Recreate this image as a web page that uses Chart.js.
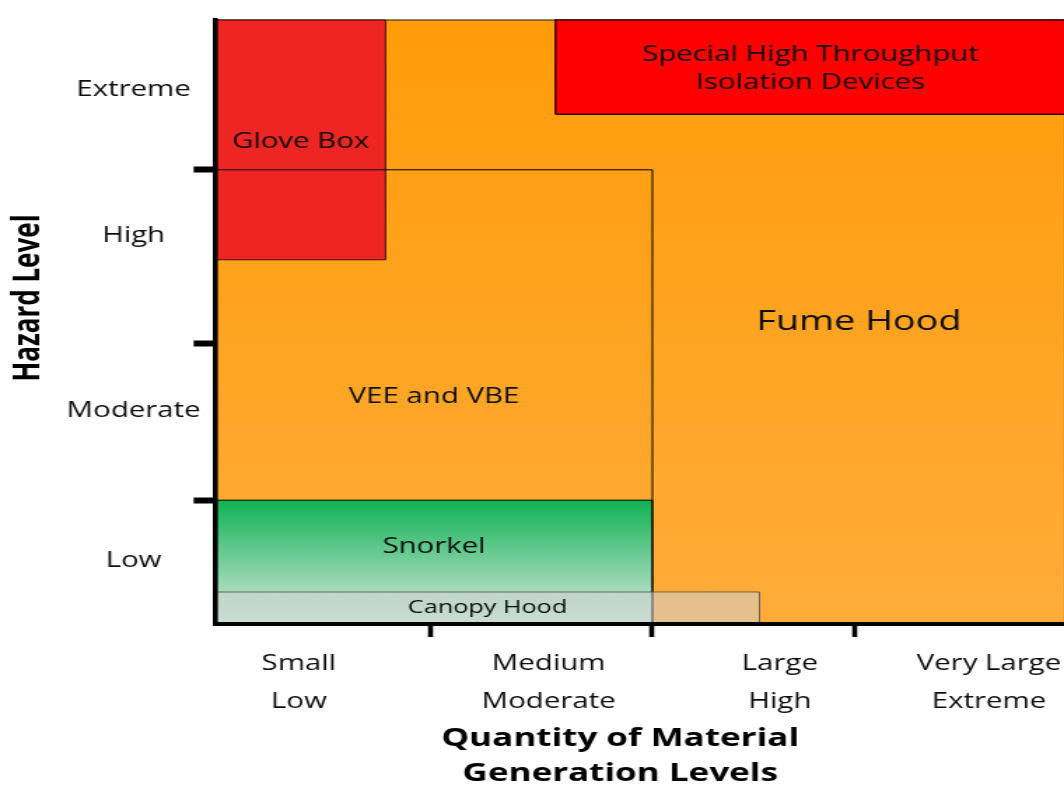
<!DOCTYPE html>
<html>
<head>
<meta charset="utf-8">
<script src="https://cdn.jsdelivr.net/npm/chart.js@4.4.1/dist/chart.umd.min.js"></script>
<style>
  html, body { margin: 0; padding: 0; background: #fff; overflow: hidden; width: 1064px; height: 785px; }
  /* the chart is laid out narrow and widened 1.4x horizontally */
  #wrap { position: relative; width: 772px; height: 785px; transform: scaleX(1.4); transform-origin: 0 0; }
  canvas { display: block; }
</style>
</head>
<body>
<div id="wrap"><canvas id="chart" width="772" height="785"></canvas></div>
<script>
// Hazard level bands (y axis, 0-100)
const hazardLevels = ['Low', 'Moderate', 'High', 'Extreme'];
const hazardLabelAt = [10.5, 35.3, 64.2, 88.4];
const hazardBounds = [20.5, 46.5, 75.2];

// Quantity of material / generation level bands (x axis, 0-100)
const quantityLevels = [['Small', 'Low'], ['Medium', 'Moderate'], ['Large', 'High'], ['Very Large', 'Extreme']];
const quantityLabelAt = [9.8, 39.2, 66.4, 91];
const quantityBounds = [25.3, 51.4, 75.2];

// Control device zones, listed from back to front
const zoneLabels = [['Fume Hood'], ['Snorkel'], ['Glove Box'], ['VEE and VBE'], ['Special High Throughput', 'Isolation Devices'], ['Canopy Hood']];
const zoneQuantityFrom = [0, 0, 0, 0, 40, 0];
const zoneQuantityTo = [100, 51.4, 20, 51.4, 100, 64];
const zoneHazardFrom = [0, 0, 60.3, 0, 84.4, 0];
const zoneHazardTo = [100, 20.5, 100, 75.2, 100, 5.3];
const zoneLabelQuantity = [75.7, 25.7, 10, 25.7, 70, 32];
const zoneLabelHazard = [50.0, 12.8, 79.8, 37.5, 91.9, 2.7];

// ---- styling ----
const FONT = '"Open Sans", "DejaVu Sans", sans-serif';

function yGradient(chart, stops, fallback) {
  const y = chart.scales.y;
  if (!chart.chartArea || !y) return fallback;
  const p0 = y.getPixelForValue(stops[0][0]);
  const p1 = y.getPixelForValue(stops[stops.length - 1][0]);
  const g = chart.ctx.createLinearGradient(0, p0, 0, p1);
  stops.forEach(([v, c]) => g.addColorStop((y.getPixelForValue(v) - p0) / (p1 - p0), c));
  return g;
}

const zoneFill = [
  c => yGradient(c.chart, [[0, '#FFAC3A'], [100, '#FF9C08']], '#FFA520'),
  c => yGradient(c.chart, [[0, '#C6E9D4'], [5.3, '#A9DCBE'], [20.5, '#10B255']], '#4CC07C'),
  '#EE2523',
  'rgba(0,0,0,0)',
  '#FF0000',
  'rgba(205,210,210,0.55)'
];
const zoneBorder = ['#2a1a00', '#000000', '#3b1208', '#000000', '#330000', 'rgba(80,80,80,0.85)'];
const zoneBorderWidth = [1.2, 1, 1, 1, 1.4, 1];
const zoneLabelSize = [27, 21, 21, 21, 21, 18];

const datasets = zoneLabels.map((lines, i) => {
  const x0 = zoneQuantityFrom[i], x1 = zoneQuantityTo[i];
  const y0 = zoneHazardFrom[i], y1 = zoneHazardTo[i];
  return {
    label: lines.join(' '),
    data: [{x: x0, y: y0}, {x: x1, y: y0}, {x: x1, y: y1}, {x: x0, y: y1}, {x: x0, y: y0}],
    fill: 'shape',
    backgroundColor: zoneFill[i],
    borderColor: zoneBorder[i],
    borderWidth: zoneBorderWidth[i],
    borderJoinStyle: 'miter',
    pointRadius: 0,
    tension: 0,
    clip: false,
    order: zoneLabels.length - i
  };
});

// zone names inside each region
const zoneLabelPlugin = {
  id: 'zoneLabels',
  afterDatasetsDraw(chart) {
    const {ctx, scales: {x, y}} = chart;
    ctx.save();
    ctx.fillStyle = '#0d0d0d';
    ctx.textAlign = 'center';
    ctx.textBaseline = 'middle';
    zoneLabels.forEach((lines, i) => {
      const size = zoneLabelSize[i];
      ctx.font = `${size}px ${FONT}`;
      const cx = x.getPixelForValue(zoneLabelQuantity[i]);
      const cy = y.getPixelForValue(zoneLabelHazard[i]);
      const lh = size * 1.33;
      lines.forEach((t, k) => ctx.fillText(t, cx, cy + (k - (lines.length - 1) / 2) * lh));
    });
    ctx.restore();
  }
};

// axis titles
const axisTitlePlugin = {
  id: 'axisTitles',
  afterDraw(chart) {
    const {ctx, chartArea} = chart;
    ctx.save();
    ctx.fillStyle = '#000';
    ctx.textAlign = 'center';
    ctx.textBaseline = 'middle';
    ctx.font = `bold 25px ${FONT}`;
    const cx = chartArea.left + 289;
    ctx.fillText('Quantity of Material', cx, chartArea.bottom + 115);
    ctx.fillText('Generation Levels', cx, chartArea.bottom + 150);
    ctx.translate(chartArea.left - 133.5, chartArea.top + 278);
    ctx.rotate(-Math.PI / 2);
    ctx.font = `bold 26px ${FONT}`;
    ctx.fillText('Hazard Level', 0, 0);
    ctx.restore();
  }
};

const isIn = (arr, v) => arr.indexOf(v) !== -1;

new Chart(document.getElementById('chart'), {
  type: 'line',
  data: { datasets },
  options: {
    responsive: false,
    animation: false,
    events: [],
    devicePixelRatio: 1,
    layout: { padding: { top: 20, right: 11, left: 0, bottom: 0 } },
    plugins: { legend: { display: false }, tooltip: { enabled: false } },
    scales: {
      x: {
        type: 'linear',
        position: 'bottom',
        min: 0,
        max: 100,
        afterBuildTicks: s => { s.ticks = quantityLabelAt.concat(quantityBounds).sort((a, b) => a - b).map(v => ({value: v})); },
        afterFit: s => { s.height = 161; },
        grid: {
          drawOnChartArea: false,
          tickLength: 13,
          tickWidth: 3.6,
          tickColor: c => (c.tick && isIn(quantityBounds, c.tick.value)) ? '#000' : 'rgba(0,0,0,0)'
        },
        border: { display: true, color: '#000', width: 4, z: 1 },
        ticks: {
          autoSkip: false,
          maxRotation: 0,
          minRotation: 0,
          padding: 8,
          color: '#0d0d0d',
          font: { family: FONT, size: 21, lineHeight: 1.81 },
          callback: v => { const k = quantityLabelAt.indexOf(v); return k === -1 ? '' : quantityLevels[k]; }
        }
      },
      y: {
        type: 'linear',
        min: 0,
        max: 100,
        afterBuildTicks: s => { s.ticks = hazardLabelAt.concat(hazardBounds).sort((a, b) => a - b).map(v => ({value: v})); },
        afterFit: s => { s.width = 154; },
        grid: {
          drawOnChartArea: false,
          tickLength: 15.7,
          tickWidth: 6,
          tickColor: c => (c.tick && isIn(hazardBounds, c.tick.value)) ? '#000' : 'rgba(0,0,0,0)'
        },
        border: { display: true, color: '#000', width: 3.6, z: 1 },
        ticks: {
          autoSkip: false,
          crossAlign: 'center',
          padding: -5,
          color: '#0d0d0d',
          font: { family: FONT, size: 21 },
          callback: v => { const k = hazardLabelAt.indexOf(v); return k === -1 ? '' : hazardLevels[k]; }
        }
      }
    }
  },
  plugins: [zoneLabelPlugin, axisTitlePlugin]
});
</script>
</body>
</html>
